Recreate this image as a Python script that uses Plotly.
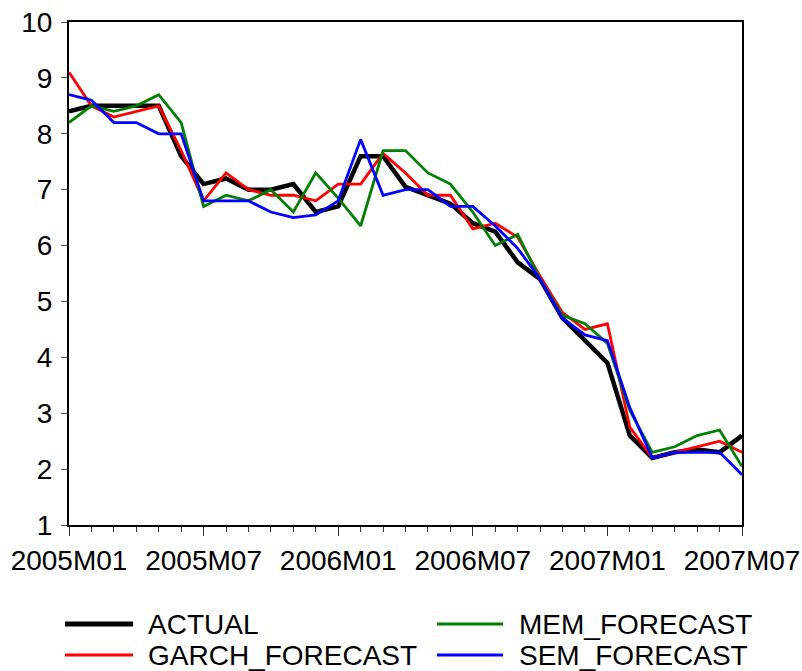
import plotly.graph_objects as go

# Monthly sample 2005M01 .. 2007M07
months = [f"{y}M{m:02d}" for y in (2005, 2006, 2007) for m in range(1, 13)][:31]
tick_labels = ["2005M01", "2005M07", "2006M01", "2006M07", "2007M01", "2007M07"]

actual = [8.4, 8.5, 8.5, 8.5, 8.5, 7.6, 7.1, 7.2, 7.0, 7.0, 7.1, 6.6, 6.7, 7.6, 7.6, 7.05,
          6.9, 6.75, 6.4, 6.25, 5.7, 5.4, 4.7, 4.3, 3.9, 2.6, 2.2, 2.3, 2.35, 2.3, 2.6]
garch_forecast = [9.1, 8.5, 8.3, 8.4, 8.5, 7.7, 6.8, 7.3, 7.0, 6.9, 6.9, 6.8, 7.1, 7.1, 7.65, 7.3,
                  6.9, 6.9, 6.3, 6.4, 6.15, 5.45, 4.8, 4.5, 4.6, 2.75, 2.2, 2.3, 2.4, 2.5, 2.3]
mem_forecast = [8.2, 8.5, 8.4, 8.5, 8.7, 8.2, 6.7, 6.9, 6.8, 7.0, 6.6, 7.3, 6.85, 6.35, 7.7, 7.7,
                7.3, 7.1, 6.6, 6.0, 6.2, 5.4, 4.75, 4.6, 4.25, 3.05, 2.3, 2.4, 2.6, 2.7, 2.05]
sem_forecast = [8.7, 8.6, 8.2, 8.2, 8.0, 8.0, 6.8, 6.8, 6.8, 6.6, 6.5, 6.55, 6.8, 7.9, 6.9, 7.0,
                7.0, 6.7, 6.7, 6.35, 5.95, 5.4, 4.7, 4.4, 4.3, 3.1, 2.2, 2.3, 2.3, 2.3, 1.9]

series = [
    ("ACTUAL", actual, "#000000", 4.5),
    ("GARCH_FORECAST", garch_forecast, "#ff0000", 2.8),
    ("MEM_FORECAST", mem_forecast, "#008000", 2.8),
    ("SEM_FORECAST", sem_forecast, "#0000ff", 2.8),
]

FONT = "Liberation Sans, Arial, Helvetica, sans-serif"
FS = 28
W, H = 802, 671
ML, MR, MT, MB = 69, 60, 22, 146
PW, PH = W - ML - MR, H - MT - MB

x_idx = list(range(len(months)))

fig = go.Figure()
for name, vals, color, width in series:
    fig.add_trace(go.Scatter(
        x=x_idx, y=vals, mode="lines", name=name,
        line=dict(color=color, width=width), showlegend=False,
        hovertext=months,
    ))

# Legend drawn below the plot: sample line + label, two columns
legend_cols = [(65, 133, 146), (437, 503, 517)]   # line start, line end, text x (px)
legend_rows = [624, 655]                           # row centre (px)
for k, (name, vals, color, width) in enumerate(series):
    col = 0 if k in (0, 1) else 1
    row = 0 if k in (0, 2) else 1
    x0, x1, xt = legend_cols[col]
    yc = legend_rows[row]
    yp = (H - MB - yc) / PH
    fig.add_shape(type="line", xref="paper", yref="paper",
                  x0=(x0 - ML) / PW, x1=(x1 - ML) / PW, y0=yp, y1=yp,
                  line=dict(color=color, width=5 if k == 0 else 3))
    fig.add_annotation(xref="paper", yref="paper", x=(xt - ML) / PW, y=yp,
                       text=name, showarrow=False, xanchor="left", yanchor="middle",
                       font=dict(family=FONT, size=FS, color="black"))

fig.update_layout(
    width=W, height=H,
    margin=dict(l=ML, r=MR, t=MT, b=MB, pad=0, autoexpand=False),
    plot_bgcolor="white", paper_bgcolor="white",
    showlegend=False,
    font=dict(family=FONT, size=FS, color="black"),
)
fig.update_xaxes(
    range=[0, len(months) - 1],
    automargin=False,
    tickmode="array",
    tickvals=[months.index(t) for t in tick_labels],
    ticktext=tick_labels,
    ticks="outside", ticklen=9, tickwidth=1, tickcolor="#333",
    minor=dict(tickmode="linear", tick0=0, dtick=1, ticks="outside",
               ticklen=5, tickwidth=1, tickcolor="#333"),
    showline=True, linecolor="black", linewidth=2, mirror=True,
    showgrid=False, zeroline=False,
    tickfont=dict(family=FONT, size=FS, color="black"),
)
fig.update_yaxes(
    range=[1, 10], tickmode="linear", tick0=1, dtick=1,
    automargin=False,
    ticks="outside", ticklen=6, tickwidth=1, tickcolor="#555",
    showline=True, linecolor="black", linewidth=2, mirror=True,
    showgrid=False, zeroline=False,
    tickfont=dict(family=FONT, size=FS, color="black"),
    ticklabelstandoff=3,
)

fig.write_html("out.html")
